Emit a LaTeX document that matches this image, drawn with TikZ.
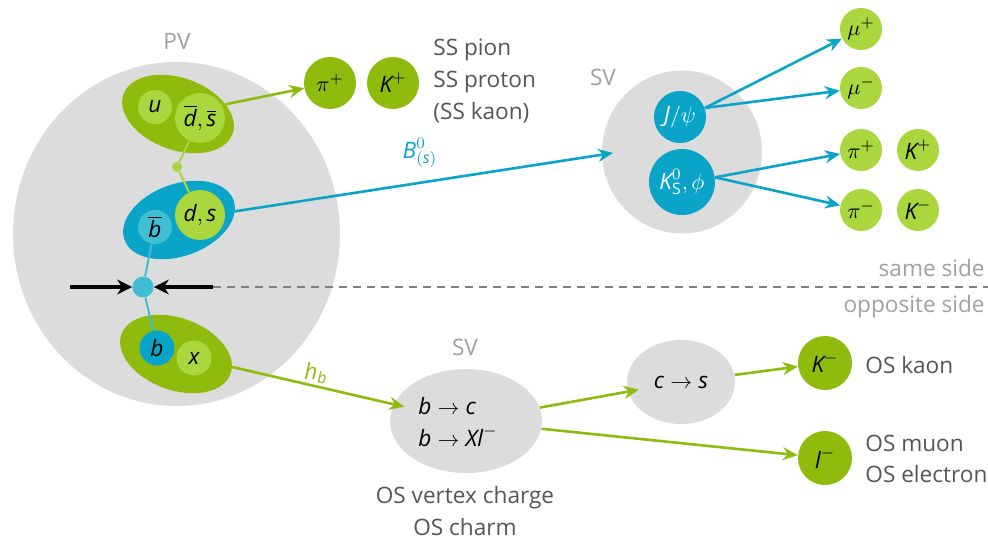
\documentclass[tikz,border=0pt]{standalone}
\usepackage{amsmath}
\usepackage{fontspec}
\setmainfont{Open Sans}
\usetikzlibrary{shapes.geometric,arrows.meta}
\definecolor{dgreen}{RGB}{142,187,12}
\definecolor{lgreen}{RGB}{170,214,62}
\definecolor{cblue}{RGB}{10,164,200}
\definecolor{lblue}{RGB}{64,190,210}
\definecolor{vgrey}{RGB}{220,220,220}
\definecolor{lbl}{RGB}{160,160,160}
\definecolor{txt}{RGB}{85,85,85}
\newcommand{\vi}[1]{\textit{#1}}
\begin{document}
\begin{tikzpicture}[x=0.5pt,y=-0.5pt,font=\fontsize{11.3}{15.8}\selectfont,
  vtx/.style={ellipse,fill=vgrey,inner sep=0pt},
  hadron/.style={ellipse,inner sep=0pt,minimum width=58pt,minimum height=36pt,rotate=#1},
  part/.style={circle,inner sep=0pt,minimum size=#1},
  arr/.style={-{Stealth[length=7.5pt,width=6.5pt,inset=2.5pt]},line width=1.3pt},
  barr/.style={-{Stealth[length=7.5pt,width=7.5pt,inset=2.5pt]},line width=1.6pt,black},
  lab/.style={text=lbl,inner sep=0pt},
  body/.style={text=txt,inner sep=0pt},
  link/.style={line width=1pt}]
\useasboundingbox (0,0) rectangle (988,539);

% vertices
\node[vtx,minimum width=163.5pt,minimum height=172pt] (pv) at (176.5,234) {};
\node[vtx,minimum width=80pt,minimum height=81.5pt] (sv1) at (682,152) {};
\node[vtx,minimum width=76pt,minimum height=52pt] (sv2) at (466,421) {};
\node[vtx,minimum width=54pt,minimum height=42pt] (sv3) at (681,382) {};

% labels
\node[lab] (pvl) at (177,41) {PV};
\node[lab] (svl1) at (603,77) {SV};
\node[lab] (svl2) at (465,347) {SV};
\node[lab,anchor=east] (same) at (985,268) {same side};
\node[lab,anchor=east] (opp) at (985,307) {opposite side};

% hadrons in PV
\node[hadron=-20,fill=dgreen] (hup) at (178,114) {};
\node[hadron=20,fill=cblue] (hmid) at (179,220) {};
\node[hadron=-20,fill=dgreen] (hlow) at (176,354) {};

\node[part=17pt,fill=lgreen] (u) at (155,107) {$\vi{u}$};
\node[part=25pt,fill=lgreen] (dbar) at (200,118) {$\overline{\vi{d}},\overline{\vi{s}}$};
\node[part=5pt,fill=lgreen] (gdot) at (177,167) {};
\node[part=25pt,fill=lgreen] (ds) at (200,215) {$\vi{d},\vi{s}$};
\node[part=17pt,fill=lblue] (bbar) at (155,227) {$\overline{\vi{b}}$};
\node[part=10.5pt,fill=lblue] (bdot) at (143,287) {};
\node[part=17.5pt,fill=cblue] (b) at (157,348) {$\vi{b}$};
\node[part=17.5pt,fill=lgreen] (x) at (194,358) {$\vi{x}$};

\draw[link,lgreen] (dbar) -- (gdot) -- (ds);
\draw[link,lblue] (bbar) -- (bdot) -- (b);

% beam arrows and separator
\coordinate (la) at (70,287);
\coordinate (ra) at (213,287);
\coordinate (de) at (988,287);
\draw[barr] (la) -- (bdot);
\draw[barr] (ra) -- (bdot);
\draw[gray,line width=0.6pt,dash pattern=on 4pt off 3pt] (ra) -- (de);

% same side tagging particles
\node[part=26pt,fill=dgreen] (piSS) at (330,83) {$\pi^+$};
\node[part=26pt,fill=dgreen] (KSS) at (393,83) {$\vi{K}^+$};
\node[body,align=left,anchor=west] (sstxt) at (433,81) {SS pion\\SS proton\\(SS kaon)};
\draw[arr,dgreen] (hup) -- (piSS);

% signal B
\coordinate (bend) at (613,153);
\draw[arr,cblue] (hmid) -- (bend);
\node[text=cblue] (blab) at (420,153) {$\vi{B}^0_{(\vi{s})}$};

\node[part=26pt,fill=cblue,text=white] (jpsi) at (680,117) {$\vi{J}/\psi$};
\node[part=33pt,fill=cblue,text=white] (ks) at (682,182) {$\vi{K}^0_{\mathrm{S}},\phi$};

\node[part=21pt,fill=lgreen] (muP) at (861,29) {$\mu^+$};
\node[part=21pt,fill=lgreen] (muM) at (861,88) {$\mu^-$};
\node[part=21pt,fill=lgreen] (piP) at (861,150) {$\pi^+$};
\node[part=21pt,fill=lgreen] (KP) at (918,150) {$\vi{K}^+$};
\node[part=21pt,fill=lgreen] (piM) at (861,210) {$\pi^-$};
\node[part=21pt,fill=lgreen] (KM) at (918,210) {$\vi{K}^-$};

\draw[arr,cblue] (jpsi.20) -- (muP);
\draw[arr,cblue] (jpsi.20) -- (muM);
\draw[arr,cblue] (ks.8) -- (piP);
\draw[arr,cblue] (ks.8) -- (piM);

% opposite side
\node[align=left,anchor=west,inner sep=0pt] (sv2t) at (418,422) {$\vi{b}\to\vi{c}$\\$\vi{b}\to\vi{X}\vi{l}^-$};
\node (sv3t) at (681,382) {$\vi{c}\to\vi{s}$};
\node[body,align=center] (ostxt) at (465,511) {OS vertex charge\\OS charm};

\node[part=27pt,fill=dgreen] (KOS) at (825,363) {$\vi{K}^-$};
\node[part=27pt,fill=dgreen] (lOS) at (825,458) {$\vi{l}^-$};
\node[body,anchor=west] (kaontxt) at (865,365) {OS kaon};
\node[body,align=left,anchor=west] (leptxt) at (865,459) {OS muon\\OS electron};

\draw[arr,dgreen,shorten >=-5.5pt] (hlow) -- (sv2);
\node[text=dgreen] (hblab) at (316,373) {$\vi{h}_{\vi{b}}$};
\draw[arr,dgreen,shorten >=-5.5pt] (sv2) -- (sv3);
\draw[arr,dgreen] (sv2) -- (lOS);
\draw[arr,dgreen] (sv3) -- (KOS);
\end{tikzpicture}
\end{document}
